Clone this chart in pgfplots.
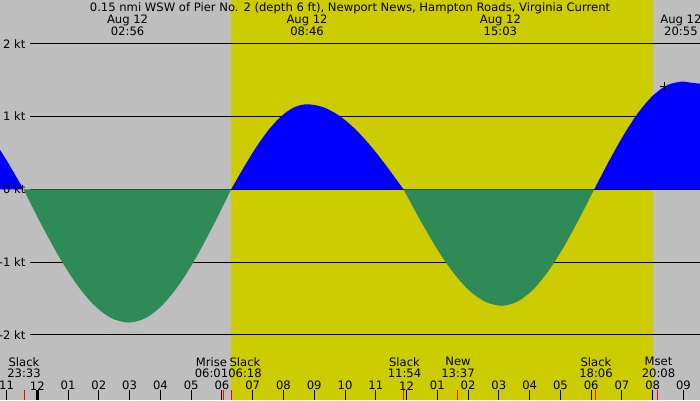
\documentclass[border=0pt]{standalone}
\usepackage{fontspec}
\setmainfont{DejaVu Sans}
\usepackage{pgfplots}
\pgfplotsset{compat=1.18}
\definecolor{bggray}{RGB}{190,190,190}
\definecolor{dayyellow}{RGB}{204,204,0}
\definecolor{ebbgreen}{RGB}{46,139,87}
\begin{document}
\begin{tikzpicture}[font=\fontsize{11.6}{13}\selectfont]
\path[use as bounding box] (0,0) rectangle (700pt,400pt);
\begin{axis}[at={(0,0)}, anchor=south west, scale only axis,
  width=700pt, height=400pt,
  xmin=-1.2122, xmax=21.537, ymin=-2.8942, ymax=2.6003,
  axis line style={draw=none}, axis on top,
  ytick=\empty,
  xtick={-1,0,...,21},
  xticklabels={11,12,01,02,03,04,05,06,07,08,09,10,11,12,01,02,03,04,05,06,07,08,09},
  xtick pos=left, tick align=inside, major tick length=10pt,
  xtick style={black, line width=1pt},
  xticklabel style={anchor=center, yshift=14.3pt, inner sep=0pt, font=\fontsize{11.6}{13}\selectfont},
  every node/.append style={inner sep=0pt},
]
\fill[bggray] (rel axis cs:0,0) rectangle (rel axis cs:1,1);
\fill[dayyellow] (axis cs:6.311,-2.8942) rectangle (axis cs:20.02,2.6003);
% grid lines
\draw[black, line width=1pt] (axis cs:-0.237,2) -- (axis cs:21.6,2);
\draw[black, line width=1pt] (axis cs:-0.237,1) -- (axis cs:21.6,1);
\draw[black, line width=1pt] (axis cs:-0.237,0) -- (axis cs:21.6,0);
\draw[black, line width=1pt] (axis cs:-0.237,-1) -- (axis cs:21.6,-1);
\draw[black, line width=1pt] (axis cs:-0.237,-2) -- (axis cs:21.6,-2);
% current lobes
\addplot[draw=none, fill=blue, smooth] coordinates {
 (-1.30,0.60) (-1.00,0.40) (-0.75,0.22) (-0.60,0.11) (-0.45,0)} \closedcycle;
\addplot[draw=none, fill=ebbgreen, smooth] coordinates {
 (-0.45,0) (0.12,-0.474) (0.69,-0.915) (1.26,-1.294) (1.83,-1.585) (2.40,-1.768) (2.97,-1.83)
 (3.525,-1.768) (4.08,-1.585) (4.635,-1.294) (5.19,-0.915) (5.745,-0.474) (6.30,0)} \closedcycle;
\addplot[draw=none, fill=blue, smooth] coordinates {
 (6.30,0) (6.712,0.302) (7.123,0.584) (7.535,0.826) (7.947,1.011) (8.358,1.128) (8.77,1.168)
 (9.292,1.128) (9.813,1.011) (10.335,0.826) (10.857,0.584) (11.378,0.302) (11.90,0)} \closedcycle;
\addplot[draw=none, fill=ebbgreen, smooth] coordinates {
 (11.90,0) (12.432,-0.414) (12.963,-0.800) (13.495,-1.131) (14.027,-1.386) (14.558,-1.545) (15.09,-1.60)
 (15.592,-1.545) (16.093,-1.386) (16.595,-1.131) (17.097,-0.800) (17.598,-0.414) (18.10,0)} \closedcycle;
\addplot[draw=none, fill=blue, smooth] coordinates {
 (18.10,0) (18.573,0.383) (19.047,0.740) (19.52,1.047) (19.993,1.282) (20.467,1.430) (20.94,1.48)
 (21.20,1.467) (21.60,1.448)} \closedcycle;
\addplot[only marks, mark=+, mark size=4.5pt, black, mark options={line width=1pt}] coordinates {(20.38,1.413)};
% kt labels
\node[anchor=east] at (axis cs:-0.27,2) {2 kt};
\node[anchor=east] at (axis cs:-0.27,1) {1 kt};
\node[anchor=east] at (axis cs:-0.27,0) {0 kt};
\node[anchor=east] at (axis cs:-0.27,-1) {-1 kt};
\node[anchor=east] at (axis cs:-0.27,-2) {-2 kt};
% title and top labels
\node at (axis cs:10.163,2.49) {0.15 nmi WSW of Pier No. 2 (depth 6 ft), Newport News, Hampton Roads, Virginia Current};
\node at (axis cs:2.933,2.325) {Aug 12};
\node at (axis cs:2.933,2.168) {02:56};
\node at (axis cs:8.767,2.325) {Aug 12};
\node at (axis cs:8.767,2.168) {08:46};
\node at (axis cs:15.05,2.325) {Aug 12};
\node at (axis cs:15.05,2.168) {15:03};
\node at (axis cs:20.917,2.325) {Aug 12};
\node at (axis cs:20.917,2.168) {20:55};
% midnight tick and event ticks
\draw[black, line width=3pt] (axis cs:0,-2.894) -- (axis cs:0,-2.757);
\draw[red, line width=1pt] (axis cs:-0.432,-2.894) -- (axis cs:-0.432,-2.757);
\draw[red, line width=1pt] (axis cs:6.035,-2.894) -- (axis cs:6.035,-2.757);
\draw[red, line width=1pt] (axis cs:6.295,-2.894) -- (axis cs:6.295,-2.757);
\draw[red, line width=1pt] (axis cs:11.917,-2.894) -- (axis cs:11.917,-2.757);
\draw[red, line width=1pt] (axis cs:13.663,-2.894) -- (axis cs:13.663,-2.757);
\draw[red, line width=1pt] (axis cs:18.125,-2.894) -- (axis cs:18.125,-2.757);
\draw[red, line width=1pt] (axis cs:20.162,-2.894) -- (axis cs:20.162,-2.757);
% event labels
\node at (axis cs:-0.432,-2.368) {Slack};
\node at (axis cs:-0.432,-2.527) {23:33};
\node at (axis cs:5.661,-2.368) {Mrise};
\node at (axis cs:5.661,-2.527) {06:01};
\node at (axis cs:6.750,-2.368) {Slack};
\node at (axis cs:6.750,-2.527) {06:18};
\node at (axis cs:11.934,-2.368) {Slack};
\node at (axis cs:11.934,-2.527) {11:54};
\node at (axis cs:13.672,-2.368) {New};
\node at (axis cs:13.672,-2.527) {13:37};
\node at (axis cs:18.157,-2.368) {Slack};
\node at (axis cs:18.157,-2.527) {18:06};
\node at (axis cs:20.188,-2.368) {Mset};
\node at (axis cs:20.188,-2.527) {20:08};
\end{axis}
\end{tikzpicture}
\end{document}
